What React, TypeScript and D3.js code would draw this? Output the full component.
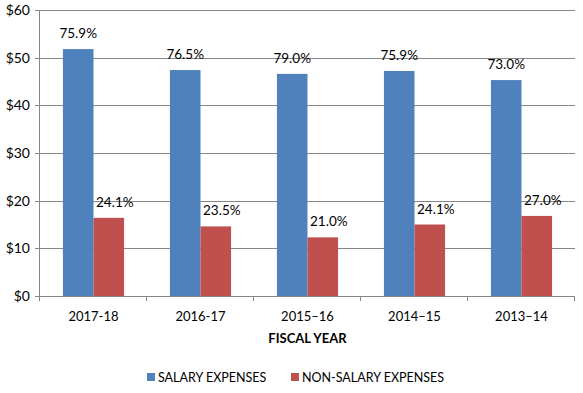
import React, { useEffect, useRef } from "react";
import * as d3 from "d3";

const categories = ["2017-18", "2016-17", "2015–16", "2014–15", "2013–14"];
const seriesNames = ["SALARY EXPENSES", "NON-SALARY EXPENSES"];
const salary = [51.8, 47.4, 46.6, 47.2, 45.3];
const nonSalary = [16.4, 14.6, 12.3, 15.0, 16.8];
const salaryPct = ["75.9%", "76.5%", "79.0%", "75.9%", "73.0%"];
const nonSalaryPct = ["24.1%", "23.5%", "21.0%", "24.1%", "27.0%"];
const yTicks = [0, 10, 20, 30, 40, 50, 60];

const colors = ["#4F81BD", "#C0504D"];
const font = "Lato, 'Open Sans', sans-serif";

const App = () => {
  const chartRef = useRef<HTMLDivElement>(null);

  useEffect(() => {
    const W = 583;
    const H = 393;
    const margin = { top: 10, right: 8, bottom: 97, left: 40 };
    const width = W - margin.left - margin.right;
    const height = H - margin.top - margin.bottom;

    d3.select(chartRef.current).selectAll("*").remove();

    const svg = d3
      .select(chartRef.current)
      .append("svg")
      .attr("width", W)
      .attr("height", H)
      .style("position", "absolute")
      .style("left", "0px")
      .style("top", "0px")
      .style("background", "#fff")
      .style("font-family", font);

    const g = svg
      .append("g")
      .attr("transform", `translate(${margin.left}, ${margin.top})`);

    const x0 = d3.scaleBand().domain(categories).range([0, width]).padding(0);
    const x1 = d3
      .scaleBand()
      .domain(seriesNames)
      .range([0, x0.bandwidth()])
      .paddingInner(0)
      .paddingOuter(0.75);
    const y = d3.scaleLinear().domain([0, 60]).range([height, 0]);

    // gridlines + y ticks
    g.selectAll(".grid")
      .data(yTicks)
      .enter()
      .append("line")
      .attr("x1", -5)
      .attr("x2", width)
      .attr("y1", (d) => Math.round(y(d)) + 0.5)
      .attr("y2", (d) => Math.round(y(d)) + 0.5)
      .attr("stroke", "#868686")
      .attr("stroke-width", 1);

    g.selectAll(".ylab")
      .data(yTicks)
      .enter()
      .append("text")
      .attr("x", -10)
      .attr("y", (d) => y(d))
      .attr("dy", "0.36em")
      .attr("text-anchor", "end")
      .style("font-size", "14px")
      .style("fill", "#000")
      .text((d) => `$${d}`);

    // y axis line
    g.append("line")
      .attr("x1", -0.5)
      .attr("x2", -0.5)
      .attr("y1", 0)
      .attr("y2", height)
      .attr("stroke", "#868686");

    const rows = categories.map((c, i) => ({
      cat: c,
      vals: [salary[i], nonSalary[i]],
      pcts: [salaryPct[i], nonSalaryPct[i]],
    }));

    const group = g
      .selectAll(".grp")
      .data(rows)
      .enter()
      .append("g")
      .attr("transform", (d) => `translate(${x0(d.cat)},0)`);

    group
      .selectAll("rect")
      .data((d) => d.vals.map((v, k) => ({ v, k })))
      .enter()
      .append("rect")
      .attr("x", (d) => x1(seriesNames[d.k]) as number)
      .attr("y", (d) => y(d.v))
      .attr("width", x1.bandwidth())
      .attr("height", (d) => height - y(d.v))
      .style("fill", (d) => colors[d.k]);

    group
      .selectAll("text")
      .data((d) => d.pcts.map((p, k) => ({ p, k, v: d.vals[k] })))
      .enter()
      .append("text")
      .attr(
        "x",
        (d) =>
          (x1(seriesNames[d.k]) as number) + x1.bandwidth() / 2 + (d.k === 1 ? 6 : 0)
      )
      .attr("y", (d) => y(d.v) - 11)
      .attr("text-anchor", "middle")
      .style("font-size", "13.5px")
      .style("fill", "#000")
      .text((d) => d.p);

    // x axis
    g.append("line")
      .attr("x1", 0)
      .attr("x2", width)
      .attr("y1", height + 0.5)
      .attr("y2", height + 0.5)
      .attr("stroke", "#868686");

    const bounds = categories.map((c) => x0(c) as number).concat([width]);
    g.selectAll(".xtick")
      .data(bounds)
      .enter()
      .append("line")
      .attr("x1", (d) => Math.round(d) - 0.5)
      .attr("x2", (d) => Math.round(d) - 0.5)
      .attr("y1", height)
      .attr("y2", height + 5)
      .attr("stroke", "#868686");

    g.selectAll(".xlab")
      .data(categories)
      .enter()
      .append("text")
      .attr("x", (d) => (x0(d) as number) + x0.bandwidth() / 2)
      .attr("y", height + 25)
      .attr("text-anchor", "middle")
      .style("font-size", "13px")
      .style("fill", "#000")
      .text((d) => d);

    g.append("text")
      .attr("x", width / 2)
      .attr("y", height + 47)
      .attr("text-anchor", "middle")
      .style("font-size", "13px")
      .style("font-weight", "bold")
      .style("fill", "#000")
      .text("FISCAL YEAR");

    // legend
    const legend = svg.append("g").attr("transform", "translate(0, 377)");
    const legendX = [147, 291];
    seriesNames.forEach((name, k) => {
      legend
        .append("rect")
        .attr("x", legendX[k])
        .attr("y", -4)
        .attr("width", 8)
        .attr("height", 8)
        .style("fill", colors[k]);
      legend
        .append("text")
        .attr("x", legendX[k] + 11)
        .attr("y", 0)
        .attr("dy", "0.36em")
        .style("font-size", "12.5px")
        .style("fill", "#000")
        .text(name);
    });
  }, []);

  return <div ref={chartRef} />;
};

export default App;
